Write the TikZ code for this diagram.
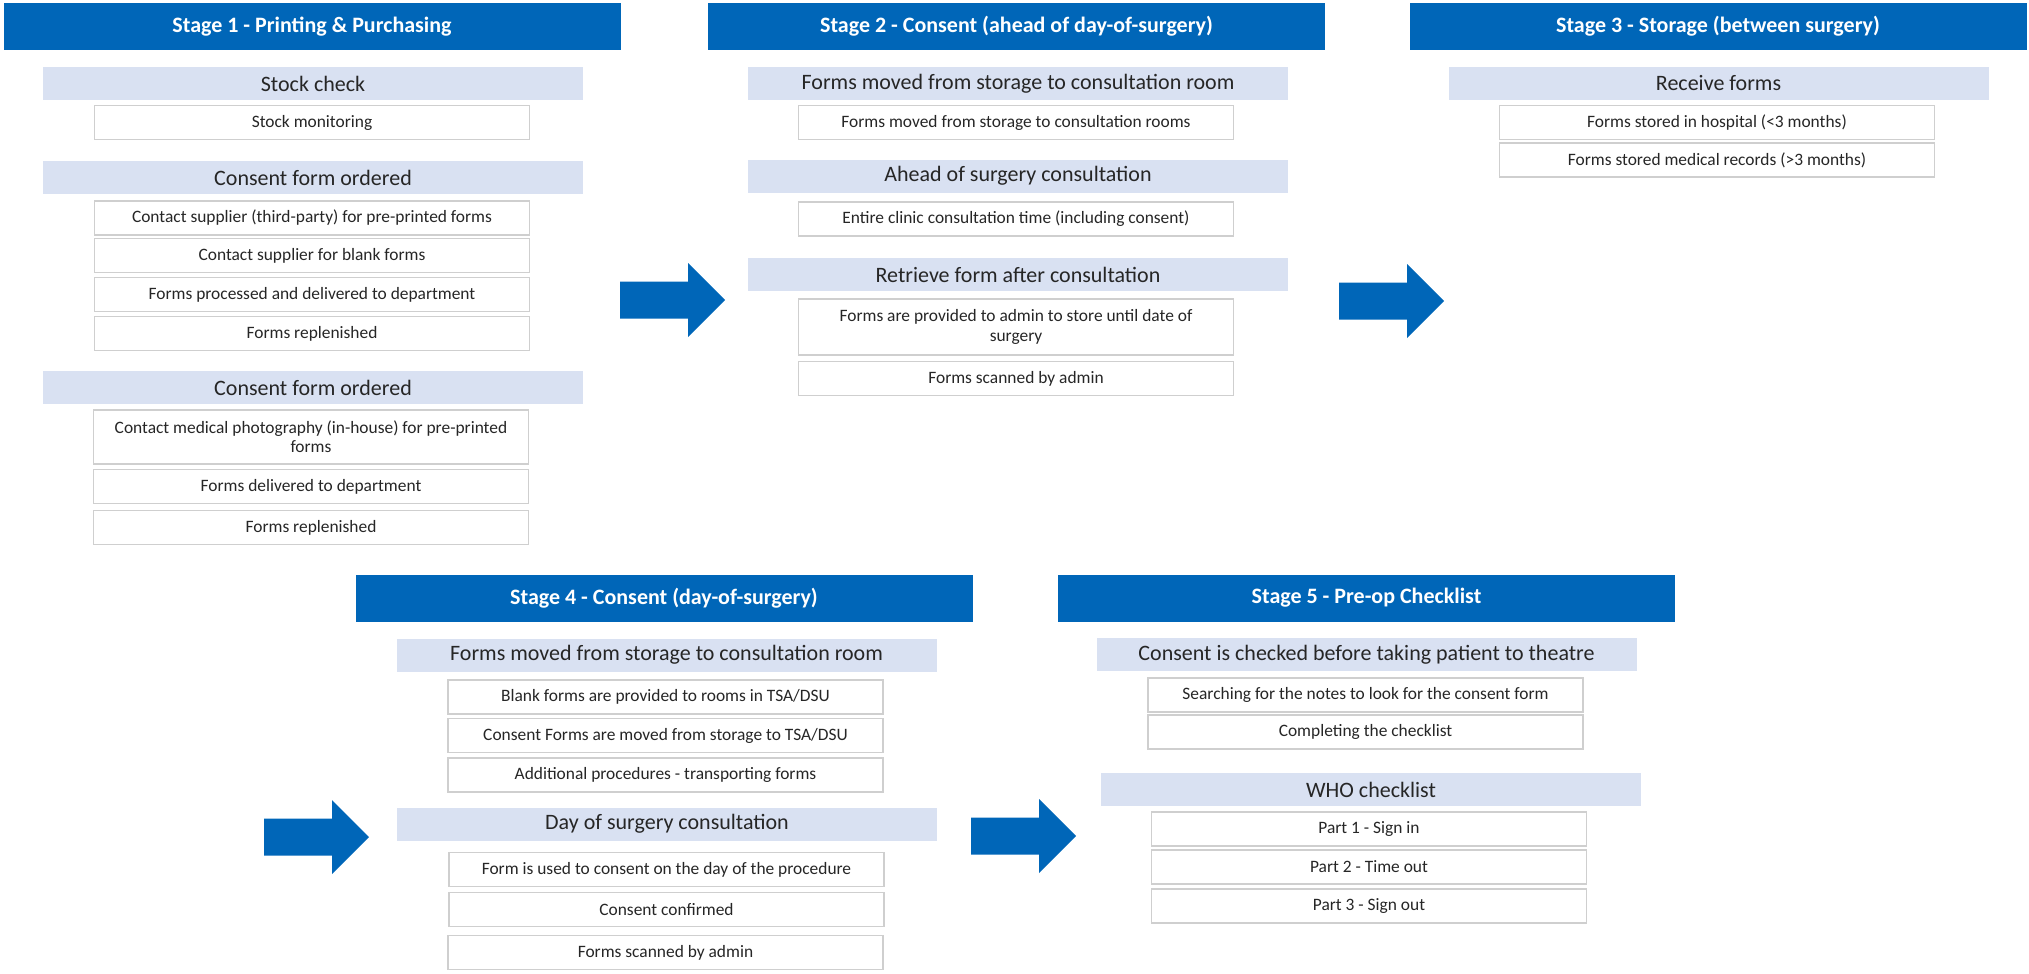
\documentclass[tikz,border=0pt]{standalone}
\usepackage{fontspec}
\setmainfont{Carlito}
\definecolor{stageblue}{HTML}{0066B8}
\definecolor{barblue}{HTML}{D9E1F2}
\definecolor{boxgray}{HTML}{CFCFCF}

\begin{document}
\begin{tikzpicture}[x=0.5pt,y=-0.5pt,
    stage/.style={fill=stageblue,text=white,font=\bfseries\fontsize{11}{13}\selectfont,
      minimum width=308.5pt,minimum height=23.5pt,inner sep=0pt},
    task/.style={fill=barblue,text=black!85,font=\fontsize{11}{13}\selectfont,
      minimum width=270pt,minimum height=16.5pt,inner sep=0pt},
    item/.style={draw=boxgray,line width=0.7pt,fill=white,text=black!85,
      font=\fontsize{8.7}{9.6}\selectfont,align=center,
      minimum width=217.5pt,minimum height=17pt,inner sep=0pt}]
      \useasboundingbox (0,0) rectangle (2029,974);
      \node[stage] (s1) at (312,26.5) {Stage 1 - Printing \& Purchasing};
      \node[task] (s1t1) at (313,83.5) {Stock check};
      \node[item] (s1i1) at (312,122.5) {Stock monitoring};
      \node[task] (s1t2) at (313,177.5) {Consent form ordered};
      \node[item] (s1i2) at (312,218) {Contact supplier (third-party) for pre-printed forms};
      \node[item] (s1i3) at (312,255.5) {Contact supplier for blank forms};
      \node[item] (s1i4) at (312,294.5) {Forms processed and delivered to department};
      \node[item] (s1i5) at (312,333.5) {Forms replenished};
      \node[task] (s1t3) at (313,387.5) {Consent form ordered};
      \node[item,minimum height=27pt] (s1i6) at (311,437) {Contact medical photography (in-house) for pre-printed\\forms};
      \node[item] (s1i7) at (311,486.5) {Forms delivered to department};
      \node[item] (s1i8) at (311,527.5) {Forms replenished};

      \node[stage] (s2) at (1016.5,26.5) {Stage 2 - Consent (ahead of day-of-surgery)};
      \node[task] (s2t1) at (1018,83.5) {Forms moved from storage to consultation room};
      \node[item] (s2i1) at (1016,122.5) {Forms moved from storage to consultation rooms};
      \node[task] (s2t2) at (1018,176) {Ahead of surgery consultation};
      \node[item] (s2i2) at (1016,219) {Entire clinic consultation time (including consent)};
      \node[task] (s2t3) at (1018,274.5) {Retrieve form after consultation};
      \node[item,minimum height=28pt] (s2i3) at (1016,327) {Forms are provided to admin to store until date of\\surgery};
      \node[item] (s2i4) at (1016,378.5) {Forms scanned by admin};

      \node[stage] (s3) at (1718,26.5) {Stage 3 - Storage (between surgery)};
      \node[task] (s3t1) at (1718.5,83.5) {Receive forms};
      \node[item] (s3i1) at (1717,122.5) {Forms stored in hospital (<3 months)};
      \node[item] (s3i2) at (1717,160) {Forms stored medical records (>3 months)};

      \node[stage] (s4) at (664,598) {Stage 4 - Consent (day-of-surgery)};
      \node[task] (s4t1) at (666.5,655) {Forms moved from storage to consultation room};
      \node[item] (s4i1) at (665.5,697) {Blank forms are provided to rooms in TSA/DSU};
      \node[item] (s4i2) at (665.5,735.5) {Consent Forms are moved from storage to TSA/DSU};
      \node[item] (s4i3) at (665.5,775) {Additional procedures - transporting forms};
      \node[task] (s4t2) at (667,824) {Day of surgery consultation};
      \node[item] (s4i4) at (666.5,869.5) {Form is used to consent on the day of the procedure};
      \node[item] (s4i5) at (666.5,909.5) {Consent confirmed};
      \node[item] (s4i6) at (665.5,952.5) {Forms scanned by admin};

      \node[stage] (s5) at (1366.5,598) {Stage 5 - Pre-op Checklist};
      \node[task] (s5t1) at (1366.5,654.5) {Consent is checked before taking patient to theatre};
      \node[item] (s5i1) at (1365.5,695) {Searching for the notes to look for the consent form};
      \node[item] (s5i2) at (1365.5,732) {Completing the checklist};
      \node[task] (s5t2) at (1371,789.5) {WHO checklist};
      \node[item] (s5i3) at (1369,829) {Part 1 - Sign in};
      \node[item] (s5i4) at (1369,867) {Part 2 - Time out};
      \node[item] (s5i5) at (1369,906) {Part 3 - Sign out};

      \foreach\ax/\ay in {620/300, 1339/301, 264/837, 971/836} {
	\fill[stageblue] (\ax,\ay-18.5) -- (\ax+68,\ay-18.5) -- (\ax+68,\ay-37) -- (\ax+105,\ay)
	  -- (\ax+68,\ay+37) -- (\ax+68,\ay+18.5) -- (\ax,\ay+18.5) -- cycle;
      }
    \end{tikzpicture}
\end{document}
